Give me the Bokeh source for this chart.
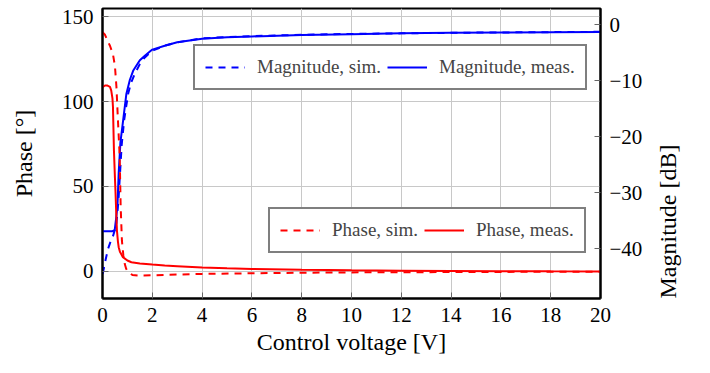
import math
from bokeh.plotting import figure
from bokeh.models import (Range1d, LinearAxis, FixedTicker, Legend, LegendItem)
from bokeh.embed import file_html
from bokeh.resources import INLINE

# ---- data ----
volt_phase_meas = [0, 0.1, 0.2, 0.3, 0.35, 0.4, 0.42, 0.46, 0.5, 0.52, 0.55, 0.58, 0.62, 0.65, 0.7,
                   0.82, 1.0, 1.16, 1.5, 2.0, 2.5, 3, 4, 5, 6, 8, 10, 12, 14, 16, 18, 20]
phase_meas = [108.5, 109.6, 109.5, 108.8, 106.7, 102, 97, 71, 55, 47.6, 35, 24, 17.5, 14.2, 11.5,
              8.3, 6.3, 5.3, 4.6, 3.9, 3.4, 3.0, 2.2, 1.7, 1.3, 0.8, 0.5, 0.3, 0.15, 0.05, -0.05, -0.1]

volt_phase_sim = [0, 0.1, 0.2, 0.3, 0.42, 0.5, 0.56, 0.62, 0.69, 0.73, 0.78, 0.84, 0.89, 0.95, 1.02,
                  1.09, 1.2, 1.5, 2, 3, 4, 6, 8, 10, 12, 14, 16, 18, 20]
phase_sim = [141, 139.5, 136, 133, 128, 121, 108.6, 89, 68, 38, 18, 9, 4.5, 1.5, -0.2,
             -1.2, -2.2, -2.6, -2.4, -2.0, -1.6, -1.2, -0.9, -0.7, -0.6, -0.5, -0.4, -0.35, -0.3]

volt_mag_meas = [0, 0.2, 0.4, 0.49, 0.55, 0.6, 0.65, 0.72, 0.83, 0.96, 1.1, 1.23, 1.5, 1.7, 2.0,
                 2.5, 3, 4, 5, 6, 8, 10, 12, 14, 16, 18, 20]
mag_meas = [-36.9, -36.9, -36.9, -36.7, -34.5, -32.4, -26.5, -21.0, -17.0, -12.3, -9.8, -8.2, -6.3,
            -5.5, -4.4, -3.7, -3.1, -2.45, -2.2, -2.05, -1.8, -1.65, -1.5, -1.4, -1.35, -1.3, -1.25]

volt_mag_sim = [0, 0.02, 0.1, 0.22, 0.32, 0.42, 0.5, 0.56, 0.6, 0.65, 0.72, 0.77, 0.87, 1.03, 1.15,
                1.29, 1.5, 1.7, 2.0, 2.5, 3, 4, 5, 6, 8, 10, 12, 14, 16, 18, 20]
mag_sim = [-44.5, -44.3, -42.5, -40.1, -38.8, -37.8, -36.6, -35.4, -33.5, -30.7, -25.3, -21.5, -17,
           -12.3, -10.3, -8.8, -7.0, -5.8, -4.6, -3.7, -3.1, -2.4, -2.15, -2.0, -1.75, -1.6, -1.5,
           -1.4, -1.33, -1.28, -1.22]

x_ticks = [0, 2, 4, 6, 8, 10, 12, 14, 16, 18, 20]
phase_ticks = [0, 50, 100, 150]
mag_ticks = [0, -10, -20, -30, -40]
mag_tick_labels = ["0", "\u221210", "\u221220", "\u221230", "\u221240"]

FONT = "Liberation Serif"
BLUE = "#0000ff"
RED = "#ff0000"
DASH = "7 6"
TICK_FS = "21px"
LABEL_FS = "24px"

p = figure(width=710, height=373, output_backend="svg", toolbar_location=None,
           x_range=Range1d(0, 20), y_range=Range1d(-16.1, 155.0),
           min_border_left=102, min_border_right=110, min_border_top=8, min_border_bottom=75)
p.extra_y_ranges = {"mag": Range1d(-48.93, 2.95)}

p.outline_line_color = "black"
p.outline_line_width = 2
p.background_fill_color = "white"
p.border_fill_color = "white"

r_ms = p.line(volt_mag_sim, mag_sim, y_range_name="mag", line_color=BLUE, line_width=2, line_dash=DASH)
r_mm = p.line(volt_mag_meas, mag_meas, y_range_name="mag", line_color=BLUE, line_width=2)
r_ps = p.line(volt_phase_sim, phase_sim, line_color=RED, line_width=2, line_dash=DASH)
r_pm = p.line(volt_phase_meas, phase_meas, line_color=RED, line_width=2)

# right axis with ticks only
right = LinearAxis(y_range_name="mag")
p.add_layout(right, "right")

# second right axis carrying only the title, rotated to read bottom-to-top
right_title = LinearAxis(y_range_name="mag", axis_label="Magnitude [dB]",
                         ticker=FixedTicker(ticks=[]))
tprops = right_title.properties()
if "axis_label_orientation" in tprops:
    right_title.axis_label_orientation = math.pi / 2
if "axis_label_align" in tprops:
    right_title.axis_label_align = "start"
right_title.bounds = (-36.8, 0.0)
p.add_layout(right_title, "right")

p.xaxis.ticker = FixedTicker(ticks=x_ticks)
p.yaxis[0].ticker = FixedTicker(ticks=phase_ticks)
right.ticker = FixedTicker(ticks=mag_ticks)
right.major_label_overrides = {t: l for t, l in zip(mag_ticks, mag_tick_labels)}

p.xaxis.axis_label = "Control voltage [V]"
p.yaxis[0].axis_label = "Phase [\u00b0]"

for ax in [p.xaxis[0], p.yaxis[0], right, right_title]:
    ax.axis_line_color = "black"
    ax.axis_line_width = 2
    ax.major_tick_in = 6
    ax.major_tick_out = 0
    ax.major_tick_line_color = "#666666"
    ax.minor_tick_line_color = None
    ax.major_label_text_font = FONT
    ax.major_label_text_font_size = TICK_FS
    ax.major_label_text_color = "black"
    ax.axis_label_text_font = FONT
    ax.axis_label_text_font_size = LABEL_FS
    ax.axis_label_text_font_style = "normal"
    ax.axis_label_text_color = "black"
    ax.major_label_standoff = 9

right_title.axis_line_color = None
right_title.major_tick_line_color = None
right_title.major_label_standoff = 0
p.xaxis.axis_label_standoff = 4
p.yaxis[0].axis_label_standoff = 22
right_title.axis_label_standoff = 22

p.xgrid.ticker = FixedTicker(ticks=x_ticks)
p.ygrid.ticker = FixedTicker(ticks=phase_ticks)
p.grid.grid_line_color = "#c8c8c8"
p.grid.grid_line_width = 1

def make_legend(items, loc):
    lg = Legend(items=items, location=loc, orientation="horizontal")
    lg.label_text_font = FONT
    lg.label_text_font_size = "19px"
    lg.border_line_color = "black"
    lg.border_line_width = 2
    lg.background_fill_color = "white"
    lg.background_fill_alpha = 1
    lg.glyph_width = 40
    lg.glyph_height = 20
    lg.label_standoff = 12
    lg.spacing = 6
    lg.padding = 10
    lg.margin = 0
    return lg

leg1 = make_legend([LegendItem(label="Magnitude, sim.", renderers=[r_ms]),
                    LegendItem(label="Magnitude, meas.", renderers=[r_mm])], (91, 208))
leg2 = make_legend([LegendItem(label="Phase, sim.", renderers=[r_ps]),
                    LegendItem(label="Phase, meas.", renderers=[r_pm])], (166, 45))
p.add_layout(leg1)
p.add_layout(leg2)

open("out.html", "w").write(file_html(p, INLINE))
